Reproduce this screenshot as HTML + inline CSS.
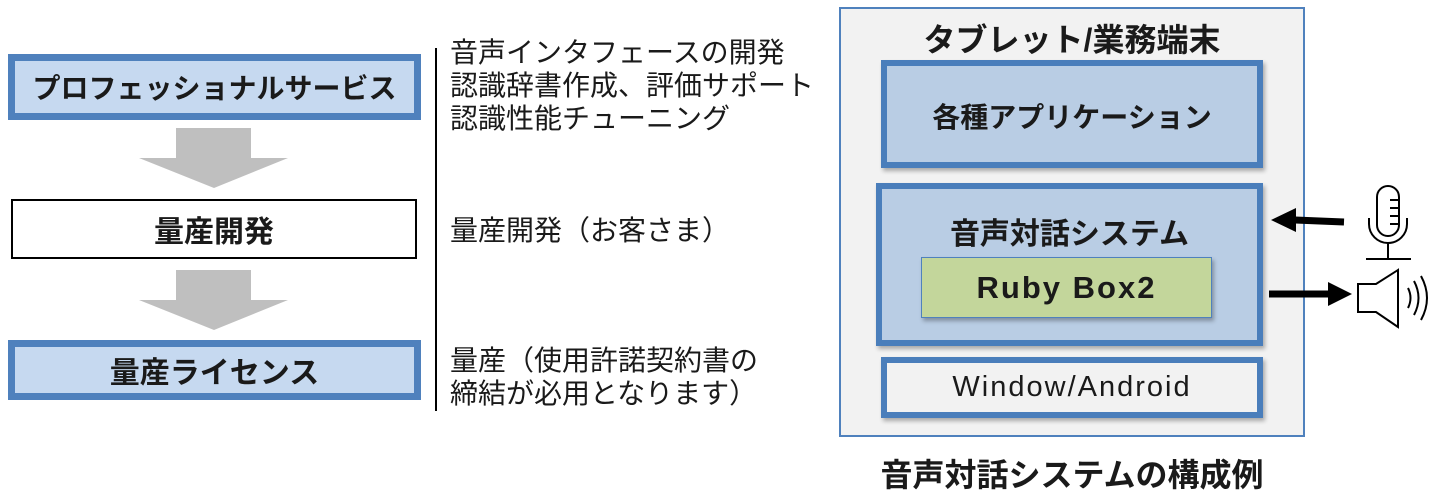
<!DOCTYPE html>
<html><head><meta charset="utf-8"><style>
body{margin:0;width:1440px;height:501px;background:#fff;position:relative;overflow:hidden;font-family:"Liberation Sans","Noto Sans CJK JP",sans-serif;color:#1a1a1a}
.a{position:absolute;box-sizing:border-box;display:flex;align-items:center;justify-content:center}
.t{position:absolute;white-space:nowrap}
</style></head><body>
<!-- left -->
<div class="a" style="left:8px;top:54px;width:413px;height:66px;background:#c6d9f0;border:7px solid #4f81bd;font-size:28px;font-weight:bold">プロフェッショナルサービス</div>
<div class="a" style="left:11px;top:199px;width:406px;height:60px;border:2px solid #000;font-size:30px;font-weight:bold">量産開発</div>
<div class="a" style="left:8px;top:340px;width:413px;height:60px;background:#c6d9f0;border:7px solid #4f81bd;font-size:30px;font-weight:bold">量産ライセンス</div>
<svg style="position:absolute;left:0;top:0" width="1440" height="501">
<polygon points="176,128 251,128 251,158 288,158 214,188 139,158 176,158" fill="#bfbfbf"/>
<polygon points="176,270 251,270 251,300 288,300 214,330 139,300 176,300" fill="#bfbfbf"/>
<line x1="436" y1="48" x2="436" y2="411" stroke="#000" stroke-width="2"/>
</svg>
<div class="t" style="left:450px;top:36px;font-size:28px;line-height:33px">音声インタフェースの開発<br>認識辞書作成、評価サポート<br>認識性能チューニング</div>
<div class="t" style="left:450px;top:214px;font-size:28px;line-height:33px">量産開発（お客さま）</div>
<div class="t" style="left:450px;top:344px;font-size:28px;line-height:33px">量産（使用許諾契約書の<br>締結が必用となります）</div>
<!-- right -->
<div class="a" style="left:839px;top:7px;width:466px;height:430px;background:#f2f2f2;border:2px solid #4f81bd"></div>
<div class="t" style="left:839px;width:466px;text-align:center;top:15px;font-size:32px;font-weight:bold">タブレット/業務端末</div>
<div class="a" style="left:881px;top:60px;width:382px;height:108px;background:#b9cde4;border:6px solid #4a7ebb;font-size:28px;font-weight:bold;align-items:flex-start;padding-top:30px;box-shadow:2px 3px 4px rgba(0,0,0,.3)">各種アプリケーション</div>
<div class="a" style="left:876px;top:183px;width:387px;height:163px;background:#b9cde4;border:6px solid #4a7ebb;font-size:30px;font-weight:bold;align-items:flex-start;padding-top:20px;box-shadow:2px 3px 4px rgba(0,0,0,.3)">音声対話システム</div>
<div class="a" style="left:921px;top:257px;width:291px;height:61px;background:#c3d69b;border:1px solid #4f81bd;font-size:31px;letter-spacing:2px;font-weight:bold;box-shadow:2px 3px 4px rgba(0,0,0,.3)">Ruby Box2</div>
<div class="a" style="left:881px;top:357px;width:382px;height:61px;background:#f2f2f2;border:6px solid #4a7ebb;font-size:29px;letter-spacing:2px;box-shadow:2px 3px 4px rgba(0,0,0,.3)">Window/Android</div>
<div class="t" style="left:839px;width:466px;text-align:center;top:450px;font-size:32px;font-weight:bold">音声対話システムの構成例</div>
<svg style="position:absolute;left:0;top:0" width="1440" height="501">
<line x1="1344" y1="222" x2="1295" y2="220" stroke="#000" stroke-width="7"/>
<polygon points="1271,220 1296,208 1296,232" fill="#000"/>
<line x1="1269" y1="294" x2="1330" y2="294" stroke="#000" stroke-width="7"/>
<polygon points="1352,294 1328,282 1328,306" fill="#000"/>
<g fill="none" stroke="#000" stroke-width="2">
<rect x="1377" y="186" width="22" height="50" rx="11"/>
<line x1="1390" y1="200" x2="1399" y2="200"/><line x1="1390" y1="208" x2="1399" y2="208"/><line x1="1390" y1="216" x2="1399" y2="216"/><line x1="1390" y1="224" x2="1399" y2="224"/>
<path d="M1369,218 v6 a19,19 0 0 0 38,0 v-6"/>
<line x1="1388" y1="243" x2="1388" y2="258"/>
<line x1="1366" y1="259" x2="1411" y2="259"/>
<polygon points="1358,284 1376,284 1398,270 1398,327 1376,312 1358,312"/>
<path d="M1408,288 q5,10 0,20"/><path d="M1414,281 q9,17 0,34"/><path d="M1421,276 q12,22 0,44"/>
</g>
</svg>
</body></html>
